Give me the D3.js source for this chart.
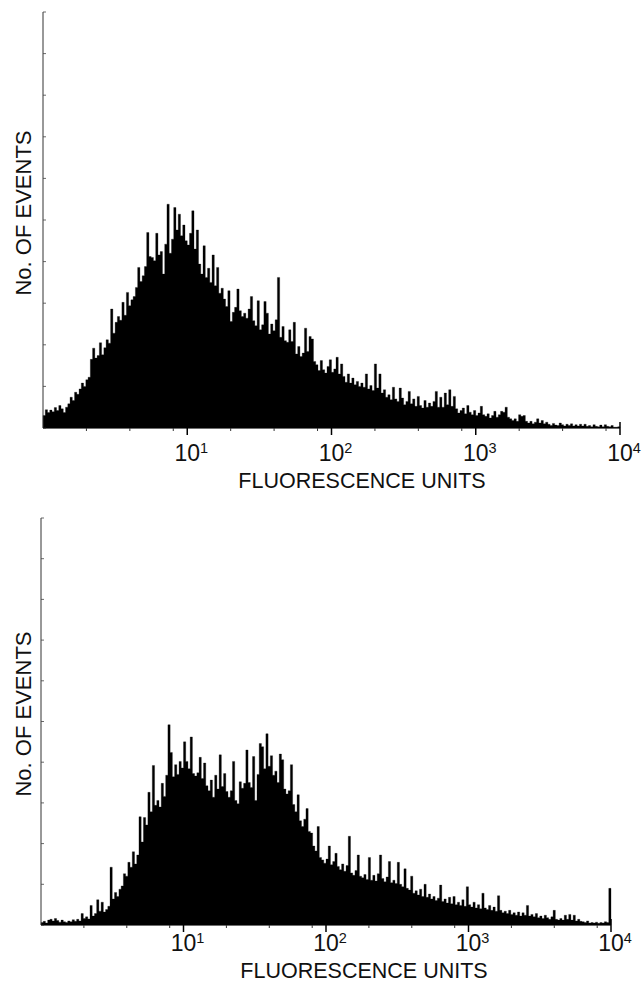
<!DOCTYPE html>
<html><head><meta charset="utf-8">
<script src="https://cdn.jsdelivr.net/npm/d3@7"></script>
<style>html,body{margin:0;padding:0;background:#fff;}svg{display:block;}</style>
</head><body>
<script>
// Data: events per log channel (percent of full y scale), 256 channels over 4 decades (10^0..10^4)
const countsTop = [
3.0,4.4,3.7,4.3,3.9,4.9,4.2,5.4,4.6,3.7,5.0,5.8,7.4,6.6,8.6,8.1,
9.4,10.8,10.0,11.6,12.2,16.5,19.2,16.8,17.4,20.5,17.6,19.3,21.2,20.4,28.6,22.8,
25.4,26.8,25.9,30.2,27.1,32.6,29.4,30.8,31.6,33.8,38.6,35.2,36.6,38.8,47.0,41.2,
41.0,40.2,46.8,41.6,42.4,37.0,44.2,53.8,42.0,45.4,53.0,47.6,51.4,46.2,48.8,45.0,
44.0,46.8,52.2,43.0,47.6,39.4,37.0,43.8,36.2,38.4,35.0,41.6,34.2,38.6,32.4,33.6,
31.0,29.2,33.0,25.6,27.8,29.0,33.4,28.2,26.8,27.6,26.4,28.6,31.6,25.8,24.6,30.6,
23.6,24.8,30.4,27.6,22.6,25.0,23.4,26.0,36.2,21.8,24.4,21.0,20.6,23.6,20.8,25.4,
17.8,19.6,17.2,18.0,24.0,18.4,22.0,21.4,16.0,15.2,13.8,16.2,14.0,13.2,14.8,16.4,
13.4,14.2,17.0,13.0,15.4,12.4,11.0,13.0,10.8,12.0,10.4,11.2,10.0,10.8,9.8,13.0,
9.4,10.2,9.0,15.4,9.6,13.0,8.4,9.2,7.4,8.0,6.8,9.8,7.0,6.4,9.6,7.2,
5.6,6.4,8.8,5.8,7.0,5.2,7.6,5.4,4.8,6.6,5.0,6.0,5.2,6.4,8.8,5.0,
7.4,5.0,8.4,5.6,9.2,5.2,7.6,4.6,3.6,4.2,4.8,3.4,5.4,3.8,3.2,4.2,
3.0,3.6,5.2,3.2,2.8,3.4,2.4,3.0,4.0,2.6,3.2,4.0,3.8,5.0,2.6,2.2,
1.8,2.2,1.6,3.2,2.8,3.0,1.6,1.2,1.6,1.0,1.4,2.2,1.2,1.8,1.0,1.4,
0.9,0.6,1.1,0.7,0.6,1.2,0.8,0.5,0.9,0.6,1.0,0.5,0.8,0.5,0.9,0.5,
0.9,0.4,0.6,0.3,0.8,0.4,0.3,0.7,0.3,0.8,0.4,0.3,0.6,0.2,0.2,0.3
];
const countsBottom = [
0.6,0.9,0.5,1.2,1.4,1.0,1.6,1.1,0.7,1.2,0.8,0.6,1.0,0.8,1.3,0.9,
1.4,1.0,2.8,1.6,2.0,1.5,4.8,2.2,2.8,6.2,3.4,5.6,3.2,3.8,4.6,14.2,
6.4,8.0,7.0,8.8,9.6,12.6,12.0,15.4,14.2,18.0,15.0,17.2,26.6,20.4,26.4,24.6,
32.6,27.8,39.2,29.4,30.6,29.0,34.8,31.6,36.8,49.2,42.4,36.4,39.4,37.0,40.2,38.6,
45.0,40.2,38.4,46.2,37.2,36.6,37.4,41.2,36.0,39.8,34.2,33.0,35.6,31.4,36.8,33.4,
41.8,34.0,37.2,32.8,31.4,33.0,40.2,30.6,29.8,35.2,33.6,34.8,43.0,35.0,33.8,41.4,
30.6,37.0,44.6,43.8,38.4,47.0,39.0,41.6,36.8,37.8,35.0,42.0,40.6,33.4,32.2,33.0,
39.4,29.6,27.8,32.0,25.6,24.2,26.0,28.6,23.0,22.6,19.4,18.2,24.2,16.6,16.0,15.2,
16.2,19.4,14.8,15.6,17.6,14.4,13.6,15.0,13.2,14.6,21.8,12.8,12.2,13.4,17.2,12.0,
11.6,12.4,11.2,16.6,11.0,12.2,10.8,12.6,17.2,11.4,10.6,11.8,15.6,10.4,11.0,10.2,
15.4,10.0,9.4,13.8,9.0,8.6,12.0,7.8,8.4,7.4,8.8,7.0,10.0,6.8,7.6,6.4,
7.0,6.0,6.6,9.8,5.8,6.4,5.4,6.8,5.2,7.0,5.0,5.6,4.8,6.2,4.6,9.4,
5.0,4.4,5.6,4.2,5.0,4.0,7.8,4.2,3.8,4.8,3.6,4.4,3.4,7.2,3.6,3.0,
3.4,2.8,3.6,2.6,3.0,2.4,3.2,2.2,3.0,2.4,4.8,2.2,2.6,2.0,2.8,1.8,
2.2,1.6,2.4,1.8,1.4,2.0,3.6,1.4,1.2,1.6,1.2,2.4,1.4,2.6,1.2,2.4,
1.0,1.4,0.9,0.8,0.6,1.0,0.5,0.6,0.5,0.7,0.4,0.6,0.5,0.8,0.6,9.0
];
const xDomain = [1, 10000];
const majorTicks = [10, 100, 1000, 10000];
const majorExponents = ["1", "2", "3", "4"];
const minorTicks = [2, 4, 8, 20, 40, 80, 200, 400, 800, 2000, 4000, 8000];
const yDomain = [0, 100];
const yTicks = [0, 10, 20, 30, 40, 50, 60, 70, 80, 90, 100];
const xAxisTitle = "FLUORESCENCE UNITS";
const yAxisTitle = "No. OF EVENTS";

const W = 642, H = 982;
const FONT = "'Liberation Sans', Arial, Helvetica, sans-serif";
const svg = d3.select("body").append("svg").attr("width", W).attr("height", H)
  .style("background", "#fff");

const panels = [
  {counts: countsTop, x0: 43, x1: 620, yTop: 12, yBase: 428, tickLabelY: 461, titleY: 488, titleX: 362, yTitleX: 31, yTitleY: 213},
  {counts: countsBottom, x0: 41, x1: 611, yTop: 518, yBase: 925, tickLabelY: 951, titleY: 978, titleX: 364, yTitleX: 31, yTitleY: 714}
];

panels.forEach(p => {
  const g = svg.append("g");
  const x = d3.scaleLog().domain(xDomain).range([p.x0, p.x1]);
  const y = d3.scaleLinear().domain(yDomain).range([p.yBase, p.yTop]);
  const n = p.counts.length;
  const lg0 = Math.log10(xDomain[0]), lg1 = Math.log10(xDomain[1]);
  const edge = i => Math.pow(10, lg0 + (lg1 - lg0) * i / n);

  // histogram as a solid step area (channel i spans edge(i)..edge(i+1))
  const pts = p.counts.map((d, i) => ({lo: edge(i), v: d}));
  pts.push({lo: edge(n), v: p.counts[n - 1]});
  const area = d3.area()
    .x(d => x(d.lo))
    .y0(y(0))
    .y1(d => y(d.v))
    .curve(d3.curveStepAfter);
  g.append("path").datum(pts).attr("d", area)
    .attr("fill", "#000").attr("stroke", "#000").attr("stroke-width", 0.3);

  // y axis
  g.append("line").attr("x1", p.x0).attr("x2", p.x0)
    .attr("y1", y(yDomain[1])).attr("y2", y(0))
    .attr("stroke", "#333").attr("stroke-width", 1);
  g.append("g").selectAll("line").data(yTicks).join("line")
    .attr("x1", p.x0).attr("x2", p.x0 + 3)
    .attr("y1", d => y(d)).attr("y2", d => y(d))
    .attr("stroke", "#444").attr("stroke-width", 0.8);

  // x axis
  g.append("line").attr("x1", p.x0).attr("x2", p.x1)
    .attr("y1", p.yBase).attr("y2", p.yBase)
    .attr("stroke", "#000").attr("stroke-width", 1.2);
  g.append("g").selectAll("line").data(minorTicks).join("line")
    .attr("x1", d => x(d)).attr("x2", d => x(d))
    .attr("y1", p.yBase).attr("y2", p.yBase + 3)
    .attr("stroke", "#333").attr("stroke-width", 1);
  g.append("g").selectAll("line").data(majorTicks).join("line")
    .attr("x1", d => x(d)).attr("x2", d => x(d))
    .attr("y1", d => d === xDomain[1] ? p.yBase - 6 : p.yBase)
    .attr("y2", p.yBase + 7)
    .attr("stroke", "#000").attr("stroke-width", 1.5);

  // tick labels 10^n
  const tl = g.append("g").selectAll("text").data(majorTicks).join("text")
    .attr("x", d => x(d) - 12.8)
    .attr("y", p.tickLabelY)
    .attr("font-family", FONT).attr("font-size", 23).attr("fill", "#111");
  tl.append("tspan").text("10");
  tl.append("tspan").text((d, i) => majorExponents[i])
    .attr("font-size", 14.5).attr("dy", -8.5);

  // axis titles
  g.append("text").attr("x", p.titleX).attr("y", p.titleY)
    .attr("text-anchor", "middle")
    .attr("font-family", FONT).attr("font-size", 21.5).attr("fill", "#111")
    .text(xAxisTitle);
  g.append("text")
    .attr("transform", `translate(${p.yTitleX},${p.yTitleY}) rotate(-90)`)
    .attr("text-anchor", "middle")
    .attr("font-family", FONT).attr("font-size", 22).attr("fill", "#111")
    .text(yAxisTitle);
});
</script>
</body></html>
